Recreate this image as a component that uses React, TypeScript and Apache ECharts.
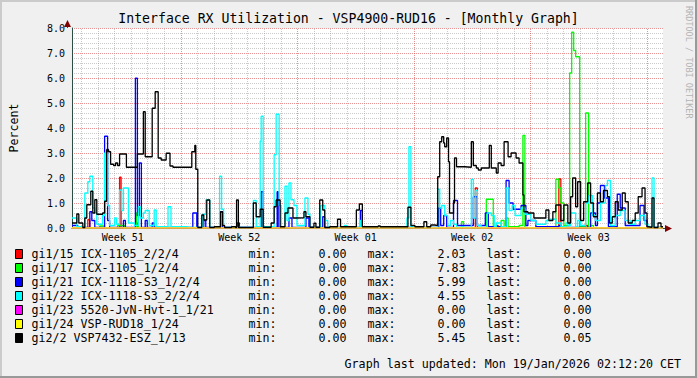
import React, { useEffect, useRef } from "react";
import * as echarts from "echarts";

const TITLE = "Interface RX Utilization - VSP4900-RUD16 - [Monthly Graph]";
const FOOTER = "Graph last updated: Mon 19/Jan/2026 02:12:20 CET";
const Y_NAME = "Percent";
const WATERMARK = "RRDTOOL / TOBI OETIKER";

// x unit: days since Mon 15/Dec/2025 00:00
const X_MIN = 0.45;
const X_MAX = 35.97;
const DAY_LINES = [1, 2, 3, 4, 5, 6, 8, 9, 10, 11, 12, 13, 15, 16, 17, 18, 19, 20, 22, 23, 24, 25, 26, 27, 29, 30, 31, 32, 33, 34];
const WEEK_LINES = [7, 14, 21, 28, 35];
const WEEK_LABEL_POS = [3.5, 10.5, 17.5, 24.5, 31.5];
const WEEK_LABELS = ["Week 51", "Week 52", "Week 01", "Week 02", "Week 03"];

const NAMES = [
  "gi1/15 ICX-1105_2/2/4",
  "gi1/17 ICX-1105_1/2/4",
  "gi1/21 ICX-1118-S3_1/2/4",
  "gi1/22 ICX-1118-S3_2/2/4",
  "gi1/23 5520-JvN-Hvt-1_1/21",
  "gi1/24 VSP-RUD18_1/24",
  "gi2/2 VSP7432-ESZ_1/13",
];
const COLORS = ["#FF0000", "#00FF00", "#0000FF", "#00FFFF", "#FF00FF", "#FFFF00", "#000000"];
const STAT_MIN = [0, 0, 0, 0, 0, 0, 0];
const STAT_MAX = [2.03, 7.83, 5.99, 4.55, 0, 0, 5.45];
const STAT_LAST = [0, 0, 0, 0, 0, 0, 0.05];

// [day, percent] step points: value holds until the next point
const GI1_15 = [[0.45,0],[1.40,0.33],[1.52,0],[3.31,2.03],[3.40,0],[4.38,0.2],[4.44,0],[24.69,1.6],[24.81,0],[25.95,0.1],[26.06,0],[29.71,1.96],[29.83,0],[31.20,0.1],[31.44,0],[35.97,0]];
const GI1_17 = [[0.45,0],[2.11,0.08],[2.41,0],[3.19,0.1],[3.60,0],[4.32,0.6],[4.44,0],[23.86,0.25],[23.98,0],[25.35,1.15],[25.77,0.05],[26.24,0.3],[26.42,0.05],[26.54,0.4],[26.66,0.05],[27.32,0.1],[27.55,3.7],[27.67,0],[28.33,0.05],[29.11,0],[29.53,1.95],[29.71,1.6],[29.83,1.0],[30.01,0.1],[30.36,6.2],[30.48,7.83],[30.60,7.1],[30.72,6.85],[30.96,0.05],[31.32,4.6],[31.50,0],[31.62,0.1],[31.79,0],[35.97,0]];
const GI1_21 = [[0.45,0.1],[0.80,0.02],[1.52,0.65],[1.64,0.3],[1.82,0.02],[2.41,3.67],[2.59,0.3],[2.71,0.02],[3.54,0.3],[3.66,0.02],[4.26,5.99],[4.38,0.5],[4.50,2.6],[4.62,0.02],[4.85,0.3],[4.97,0.02],[5.27,0.2],[5.39,0.02],[7.71,0.6],[7.95,0.02],[8.37,0.3],[8.49,0.02],[9.38,0.65],[9.50,0.02],[10.38,0.2],[10.51,0.02],[11.82,1.45],[11.94,0.02],[12.78,1.45],[12.84,0.02],[13.49,0.4],[13.67,0.02],[14.51,0.4],[14.69,0.02],[15.52,0.45],[15.64,0.02],[17.78,0.7],[17.90,0.02],[22.49,0.8],[22.61,0.1],[22.79,0.5],[22.97,0.02],[23.38,1.1],[23.62,0.1],[24.57,1.25],[24.81,0.1],[25.29,0.6],[25.47,0.05],[26.54,1.9],[26.72,1.0],[26.96,0.75],[27.44,0.9],[27.73,0.1],[27.85,0.3],[28.33,0.05],[29.71,0.1],[29.83,0.02],[31.62,0.6],[31.91,0.1],[32.03,1.0],[32.21,1.7],[32.45,1.2],[32.69,0.05],[33.22,1.35],[33.40,0.8],[33.70,0.1],[34.59,0.9],[34.83,0.3],[35.01,0.02],[35.97,0.02]];
const GI1_22 = [[0.45,0.4],[0.74,0.05],[1.22,1.4],[1.40,1.85],[1.52,2.07],[1.70,0.8],[1.82,0.6],[1.94,0.15],[2.29,0.5],[2.41,3.0],[2.59,0.9],[2.71,0.1],[3.01,0.4],[3.13,0.15],[3.31,1.52],[3.43,0.7],[3.54,1.6],[3.84,0.2],[4.20,0.1],[4.44,0.85],[4.56,0.4],[4.74,0.6],[4.85,0.7],[5.09,0.1],[5.39,0.72],[5.51,0.05],[6.22,0.85],[6.40,0.05],[7.42,0.02],[8.31,0.55],[8.49,1.12],[8.73,0.02],[9.32,2.07],[9.44,0.75],[9.56,0.02],[11.35,1.1],[11.52,0.05],[11.76,3.47],[11.82,4.47],[11.94,0.05],[12.60,2.93],[12.72,4.55],[12.90,0.9],[13.02,0.05],[13.25,1.67],[13.37,0.3],[13.49,1.8],[13.61,1.13],[13.79,0.9],[13.97,0.1],[14.45,1.2],[14.63,0.55],[14.75,0.02],[15.40,0.9],[15.64,0.3],[15.82,0.02],[16.53,0.05],[16.71,0.02],[16.83,0.1],[16.95,0.02],[17.78,0.3],[17.90,0.02],[20.58,0.4],[20.70,3.25],[20.82,0.05],[20.94,0.02],[22.43,1.55],[22.55,0.8],[22.67,0.9],[22.85,0.5],[23.03,0.1],[23.20,0.3],[23.38,0.15],[23.56,0.02],[23.86,0.05],[23.98,0.02],[24.45,1.95],[24.57,0.4],[24.69,1.5],[24.81,0.1],[25.05,0.02],[25.41,0.6],[25.65,0.5],[25.83,0.05],[25.95,0.2],[26.24,0.05],[26.54,1.6],[26.72,0.7],[26.90,0.9],[27.08,0.5],[27.44,0.8],[27.67,0.55],[28.03,0.3],[28.33,0.15],[28.93,0.3],[29.23,0.35],[29.53,0.2],[29.83,0.05],[30.13,0.2],[30.25,0.1],[30.42,0.6],[30.72,0.05],[30.84,0.3],[31.02,0.1],[31.32,1.0],[31.50,1.3],[31.73,0.5],[31.91,0.3],[32.21,1.0],[32.51,1.7],[32.63,1.9],[32.81,0.1],[33.10,0.5],[33.40,0.7],[33.70,0.3],[34.00,0.15],[34.30,0.3],[34.59,0.5],[34.89,0.15],[35.07,0.02],[35.31,2.0],[35.43,0.02],[35.97,0.02]];
const GI1_23 = [[0.45,0],[35.97,0]];
const GI1_24 = [[0.45,0],[35.97,0]];
const GI2_2 = [[0.45,0.2],[0.74,0.56],[0.86,0.2],[1.10,0.02],[1.22,0.4],[1.34,0.93],[1.58,1.47],[1.70,0.6],[1.82,1.13],[1.94,0.55],[2.29,0.6],[2.41,1.07],[2.53,3.13],[2.65,3.05],[2.77,2.55],[2.95,2.5],[3.07,2.6],[3.19,2.5],[3.31,2.96],[3.72,2.43],[4.38,2.96],[4.74,4.65],[4.85,2.85],[5.27,4.79],[5.45,5.45],[5.63,2.8],[5.81,2.72],[6.11,2.99],[6.34,2.48],[6.52,2.43],[7.65,3.05],[7.83,3.3],[7.89,2.35],[8.01,0.02],[8.25,0.52],[8.37,0.32],[8.55,1.12],[8.73,0.02],[9.0,0.05],[9.38,0.65],[9.50,0.1],[9.62,0.02],[10.04,0.05],[10.28,0.02],[10.34,1.12],[10.45,0.02],[11.35,1.0],[11.52,0.45],[11.76,0.75],[11.94,0.03],[12.42,0.2],[12.60,0.85],[12.72,1.12],[12.96,0.05],[13.25,0.6],[13.43,0.8],[13.73,0.4],[13.91,0.41],[14.39,0.65],[14.51,0.45],[14.75,0.03],[14.99,0.19],[15.11,0.03],[15.34,1.12],[15.52,0.72],[15.64,0.02],[15.94,0.05],[16.41,0.35],[16.59,0.05],[17.54,0.72],[17.72,0.96],[17.90,0.05],[18.85,0.08],[18.97,0.05],[20.64,0.83],[20.82,0.1],[21.06,0.05],[21.60,0.25],[21.77,0.05],[22.01,0.12],[22.25,0.1],[22.43,2.05],[22.55,3.45],[22.67,3.65],[22.79,3.4],[22.85,3.25],[22.97,3.6],[23.08,2.65],[23.14,0.6],[23.38,1.0],[23.44,2.8],[23.56,2.45],[24.04,2.43],[24.45,3.45],[24.57,2.5],[24.75,2.4],[24.87,2.32],[25.05,2.4],[25.53,3.3],[25.65,2.4],[25.95,2.2],[26.06,2.6],[26.24,2.5],[26.42,3.45],[26.66,2.85],[26.84,3.0],[27.14,2.8],[27.32,2.6],[27.55,1.32],[27.61,0.65],[27.85,0.6],[28.21,0.4],[28.93,0.72],[29.11,0.3],[29.35,0.65],[29.53,0.92],[29.83,0.3],[30.01,0.92],[30.25,0.2],[30.42,1.25],[30.54,2.0],[30.72,0.85],[30.84,1.85],[31.02,0.3],[31.20,1.05],[31.44,1.8],[31.62,1.0],[31.79,0.45],[32.03,1.4],[32.21,1.05],[32.39,1.5],[32.63,1.25],[32.75,0.2],[32.92,0.45],[33.10,1.05],[33.28,0.72],[33.52,1.4],[33.70,1.05],[33.88,0.2],[34.12,0.3],[34.30,0.6],[34.48,1.25],[34.71,1.6],[34.89,0.6],[35.01,0.05],[35.07,0.03],[35.31,1.2],[35.43,0.02],[35.67,0.2],[35.85,0.05],[35.97,0.05]];
const SERIES_DATA = [GI1_15, GI1_17, GI1_21, GI1_22, GI1_23, GI1_24, GI2_2];

const MONO = '"DejaVu Sans Mono", monospace';
const LEG_FS = 11.65;
const GRID_L = 67, GRID_T = 28, GRID_W = 596, GRID_H = 200;
const GRID_R = GRID_L + GRID_W, GRID_B = GRID_T + GRID_H;
const MINOR = "rgba(140,140,140,0.45)";
const MAJOR = "rgba(215,60,60,0.55)";
const AXIS = "#2C4D43";
const ARROW = "#800000";

function buildOption() {
  const fmt = (v: number) => v.toFixed(2);
  const tok = (w: number) => ({ width: w, align: "left", fontFamily: MONO, fontSize: LEG_FS, lineHeight: 14 });
  return {
    animation: false,
    backgroundColor: "#F0F0F0",
    title: [
      { text: TITLE, left: "center", top: 12, padding: 0,
        textStyle: { fontFamily: MONO, fontSize: 13.2, fontWeight: "normal", color: "#000" } },
      { text: FOOTER, right: 16, top: 358, padding: 0,
        textStyle: { fontFamily: MONO, fontSize: LEG_FS, fontWeight: "normal", color: "#000" } },
    ],
    grid: { left: GRID_L, top: GRID_T, width: GRID_W, height: GRID_H, show: true,
      backgroundColor: "#FFFFFF", borderWidth: 0 },
    legend: {
      orient: "vertical", left: 15, top: 247, itemWidth: 7, itemHeight: 9, itemGap: 0,
      icon: "rect", selectedMode: false, data: NAMES, padding: 0,
      itemStyle: { borderColor: "#000", borderWidth: 1 },
      textStyle: {
        fontFamily: MONO, fontSize: LEG_FS, color: "#000", lineHeight: 14, align: "left",
        rich: {
          s: tok(4),
          n: tok(217),
          k: tok(70),
          v: tok(28),
          g: tok(21),
          l: tok(77),
        },
      },
      formatter: (name: string) => {
        const i = NAMES.indexOf(name);
        return `{s| }{n|${name}}{k|min:}{v|${fmt(STAT_MIN[i])}}{g| }{k|max:}{v|${fmt(STAT_MAX[i])}}{g| }{l|last:}{v|${fmt(STAT_LAST[i])}}`;
      },
    },
    xAxis: {
      type: "value", min: X_MIN, max: X_MAX,
      axisLine: { show: true, onZero: false, lineStyle: { color: AXIS, width: 1 } },
      axisTick: { show: false },
      splitLine: { show: false },
      axisLabel: {
        show: true, customValues: WEEK_LABEL_POS, margin: 4,
        fontFamily: MONO, fontSize: 10, color: "#000",
        formatter: (v: number) => {
          const i = WEEK_LABEL_POS.findIndex((p) => Math.abs(p - v) < 1e-6);
          return i >= 0 ? WEEK_LABELS[i] : "";
        },
      },
    },
    yAxis: {
      type: "value", min: 0, max: 8, interval: 1,
      name: Y_NAME, nameLocation: "middle", nameRotate: 90, nameGap: 52,
      nameTextStyle: { fontFamily: MONO, fontSize: LEG_FS, color: "#000" },
      axisLine: { show: true, lineStyle: { color: AXIS, width: 1 } },
      axisTick: { show: false },
      axisLabel: { fontFamily: MONO, fontSize: 10, color: "#000", margin: 7,
        formatter: (v: number) => v.toFixed(1) },
      splitLine: { show: true, lineStyle: { type: [1, 1], color: MAJOR, width: 1 } },
      minorTick: { show: false, splitNumber: 5 },
      minorSplitLine: { show: true, lineStyle: { type: [1, 1], color: MINOR, width: 1 } },
    },
    graphic: [
      { type: "rect", shape: { x: 0, y: 0, width: 697, height: 2 }, style: { fill: "#CBCBCB" }, silent: true },
      { type: "rect", shape: { x: 0, y: 0, width: 2, height: 378 }, style: { fill: "#CBCBCB" }, silent: true },
      { type: "rect", shape: { x: 0, y: 376, width: 697, height: 2 }, style: { fill: "#999999" }, silent: true },
      { type: "rect", shape: { x: 695, y: 0, width: 2, height: 378 }, style: { fill: "#999999" }, silent: true },
      { type: "line", shape: { x1: GRID_L + 0.5, y1: GRID_T, x2: GRID_L + 0.5, y2: GRID_T - 6 },
        style: { stroke: AXIS, lineWidth: 1 }, silent: true, z: 10 },
      { type: "polygon", shape: { points: [[GRID_L - 3, GRID_T - 1], [GRID_L + 0.5, GRID_T - 8], [GRID_L + 4, GRID_T - 1]] },
        style: { fill: ARROW }, silent: true, z: 10 },
      { type: "line", shape: { x1: GRID_R, y1: GRID_B + 0.5, x2: GRID_R + 3, y2: GRID_B + 0.5 },
        style: { stroke: AXIS, lineWidth: 1 }, silent: true, z: 10 },
      { type: "polygon", shape: { points: [[GRID_R + 2, GRID_B - 3], [GRID_R + 9, GRID_B + 0.5], [GRID_R + 2, GRID_B + 4]] },
        style: { fill: ARROW }, silent: true, z: 10 },
      { type: "text", x: 689, y: 6, rotation: -Math.PI / 2,
        style: { text: WATERMARK, fill: "#B4B4B4", font: `8.5px ${MONO}`, textAlign: "left", textVerticalAlign: "middle" },
        silent: true },
    ],
    series: [
      {
        type: "line", name: "__grid", data: [[X_MIN, 0], [X_MAX, 0]], showSymbol: false, symbol: "none",
        lineStyle: { opacity: 0 }, silent: true, z: 1,
        markLine: {
          silent: true, symbol: ["none", "none"], label: { show: false }, z: 1, animation: false,
          data: [
            ...DAY_LINES.map((d) => ({ xAxis: d, lineStyle: { type: [1, 1], color: MINOR, width: 1 } })),
            ...WEEK_LINES.map((d) => ({ xAxis: d, lineStyle: { type: [1, 1], color: MAJOR, width: 1 } })),
          ],
        },
      },
      ...NAMES.map((name, i) => ({
        type: "line", name, data: SERIES_DATA[i], step: "end", showSymbol: false, symbol: "none",
        lineStyle: { color: COLORS[i], width: 1.3 }, itemStyle: { color: COLORS[i] },
        silent: true, z: 3 + i,
      })),
    ],
  };
}

export default function App() {
  const ref = useRef<HTMLDivElement>(null);
  useEffect(() => {
    document.body.style.margin = "0";
    const chart = echarts.init(ref.current as HTMLDivElement, undefined, { renderer: "svg", width: 697, height: 378 });
    chart.setOption(buildOption() as any);
    return () => chart.dispose();
  }, []);
  return <div ref={ref} style={{ position: "absolute", left: 0, top: 0, width: 697, height: 378 }} />;
}
